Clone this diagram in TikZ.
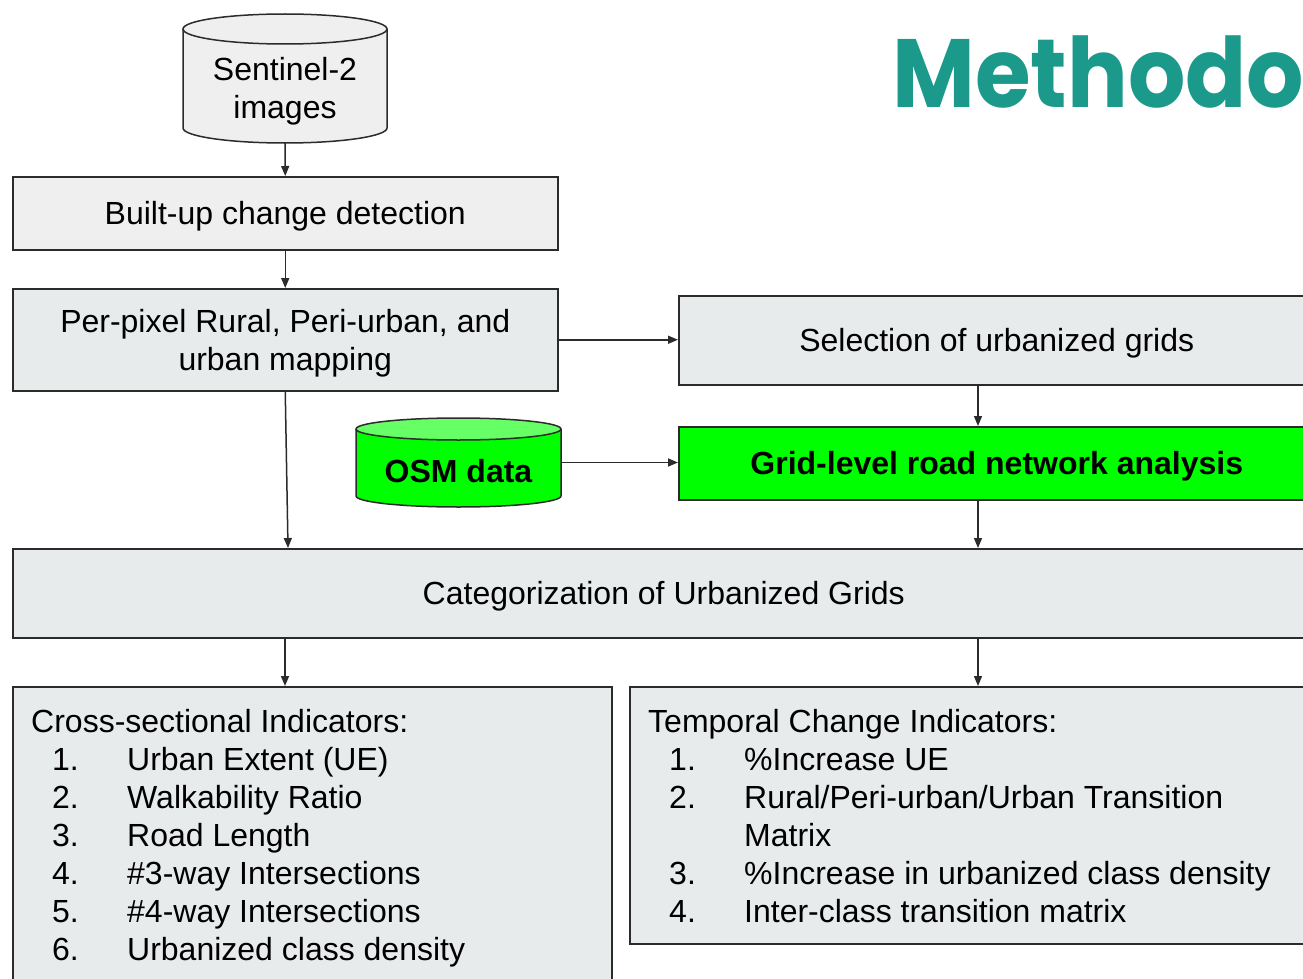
\documentclass[tikz,border=0pt]{standalone}
\usepackage{fontspec}
\setmainfont{Liberation Sans}
\newfontfamily\titlefont{Poppins}
\usetikzlibrary{arrows.meta,calc}
\definecolor{boxgray}{HTML}{E8EBEC}
\definecolor{lightbox}{HTML}{EFEFEF}
\definecolor{osmgreen}{HTML}{00FF00}
\definecolor{osmtop}{HTML}{66FF66}
\definecolor{titleteal}{RGB}{27,153,139}
\definecolor{edge}{HTML}{2B2B2B}
\newcommand{\itm}[2]{\hspace*{21pt}\makebox[75pt][l]{#1}#2}
\begin{document}
\begin{tikzpicture}[x=1pt,y=1pt,
  every node/.style={font=\fontsize{32}{38}\selectfont},
  box/.style={draw=edge, line width=1.5pt, fill=boxgray, inner sep=0pt, anchor=north west, align=center, text depth=0pt},
  arr/.style={draw=edge, line width=1.5pt, -{Triangle[length=10pt,width=8pt]}},
  outline/.style={draw=edge, line width=1.5pt},
]
\useasboundingbox (0,0) rectangle (1303,-979);
\clip (0,0) rectangle (1303,-979);

% title
\node (title) [anchor=base west, inner sep=0pt, text=titleteal,
  font=\titlefont\bfseries\fontsize{97}{100}\selectfont] at (892,-108) {\scalebox{0.93}[1]{Methodo}};

% Sentinel-2 data store
\fill[lightbox] (183,-29) -- (183,-128) arc[start angle=180,end angle=360,x radius=102pt,y radius=15pt] -- (387,-29) -- cycle;
\draw[outline] (183,-29) -- (183,-128) arc[start angle=180,end angle=360,x radius=102pt,y radius=15pt] -- (387,-29);
\draw[outline, fill=lightbox] (285,-29) ellipse[x radius=102pt, y radius=15pt];
\node (s2) [minimum width=204pt, minimum height=103pt, inner sep=0pt] at (285,-91.5)
  {\begin{tabular}{@{}c@{}}Sentinel-2\\images\end{tabular}};

% OSM data store
\fill[osmgreen] (356,-429) -- (356,-496) arc[start angle=180,end angle=360,x radius=102.5pt,y radius=11pt] -- (561,-429) -- cycle;
\draw[outline] (356,-429) -- (356,-496) arc[start angle=180,end angle=360,x radius=102.5pt,y radius=11pt] -- (561,-429);
\draw[outline, fill=osmtop] (458.5,-429) ellipse[x radius=102.5pt, y radius=11pt];
\node (osm) [minimum width=205pt, minimum height=89pt, inner sep=0pt, text height=39pt, text depth=0pt,
  font=\fontsize{32}{38}\selectfont\bfseries] at (458.5,-462.5) {OSM data};

% process boxes
\node (bu) [box, fill=lightbox, minimum width=545pt, minimum height=73pt] at (12,-176) {Built-up change detection};
\node (pp) [box, minimum width=545pt, minimum height=102pt] at (12,-288) {Per-pixel Rural, Peri-urban, and\\urban mapping};
\node (sel) [box, minimum width=636pt, minimum height=89pt] at (678,-295) {Selection of urbanized grids};
\node (grid) [box, fill=osmgreen, minimum width=636pt, minimum height=73pt,
  font=\fontsize{32}{38}\selectfont\bfseries] at (678,-426) {Grid-level road network analysis};
\node (cat) [box, minimum width=1302pt, minimum height=89pt] at (12,-548) {Categorization of Urbanized Grids};

% indicator boxes
\node (cs) [box, minimum width=599pt, minimum height=320pt] at (12,-686) {};
\node (tc) [box, minimum width=685pt, minimum height=257pt] at (629,-686) {};
\node (cstext) [anchor=north west, inner sep=0pt] at (31,-706) {\begin{tabular}{@{}l@{}}
  Cross-sectional Indicators:\\
  \itm{1.}{Urban Extent (UE)}\\
  \itm{2.}{Walkability Ratio}\\
  \itm{3.}{Road Length}\\
  \itm{4.}{\#3-way Intersections}\\
  \itm{5.}{\#4-way Intersections}\\
  \itm{6.}{Urbanized class density}
\end{tabular}};
\node (tctext) [anchor=north west, inner sep=0pt] at (648,-706) {\begin{tabular}{@{}l@{}}
  Temporal Change Indicators:\\
  \itm{1.}{\%Increase UE}\\
  \itm{2.}{Rural/Peri-urban/Urban Transition}\\
  \itm{}{Matrix}\\
  \itm{3.}{\%Increase in urbanized class density}\\
  \itm{4.}{Inter-class transition matrix}
\end{tabular}};

% connectors
\coordinate (gx) at (978,0);
\coordinate (lx) at (285,0);
\coordinate (ppin) at ($(cat.north west)+(276,0)$);
\draw[arr] (s2.south) -- (bu.north);
\draw[arr] (bu.south) -- (pp.north);
\draw[arr] (pp.east) -- (sel.west |- pp.east);
\draw[arr] (sel.south -| gx) -- (grid.north -| gx);
\draw[arr] (osm.east) -- (grid.west |- osm.east);
\draw[arr] (grid.south -| gx) -- (cat.north -| gx);
\draw[arr] (pp.south) -- (ppin);
\draw[arr] (cat.south -| lx) -- (cs.north -| lx);
\draw[arr] (cat.south -| gx) -- (tc.north -| gx);
\end{tikzpicture}
\end{document}
